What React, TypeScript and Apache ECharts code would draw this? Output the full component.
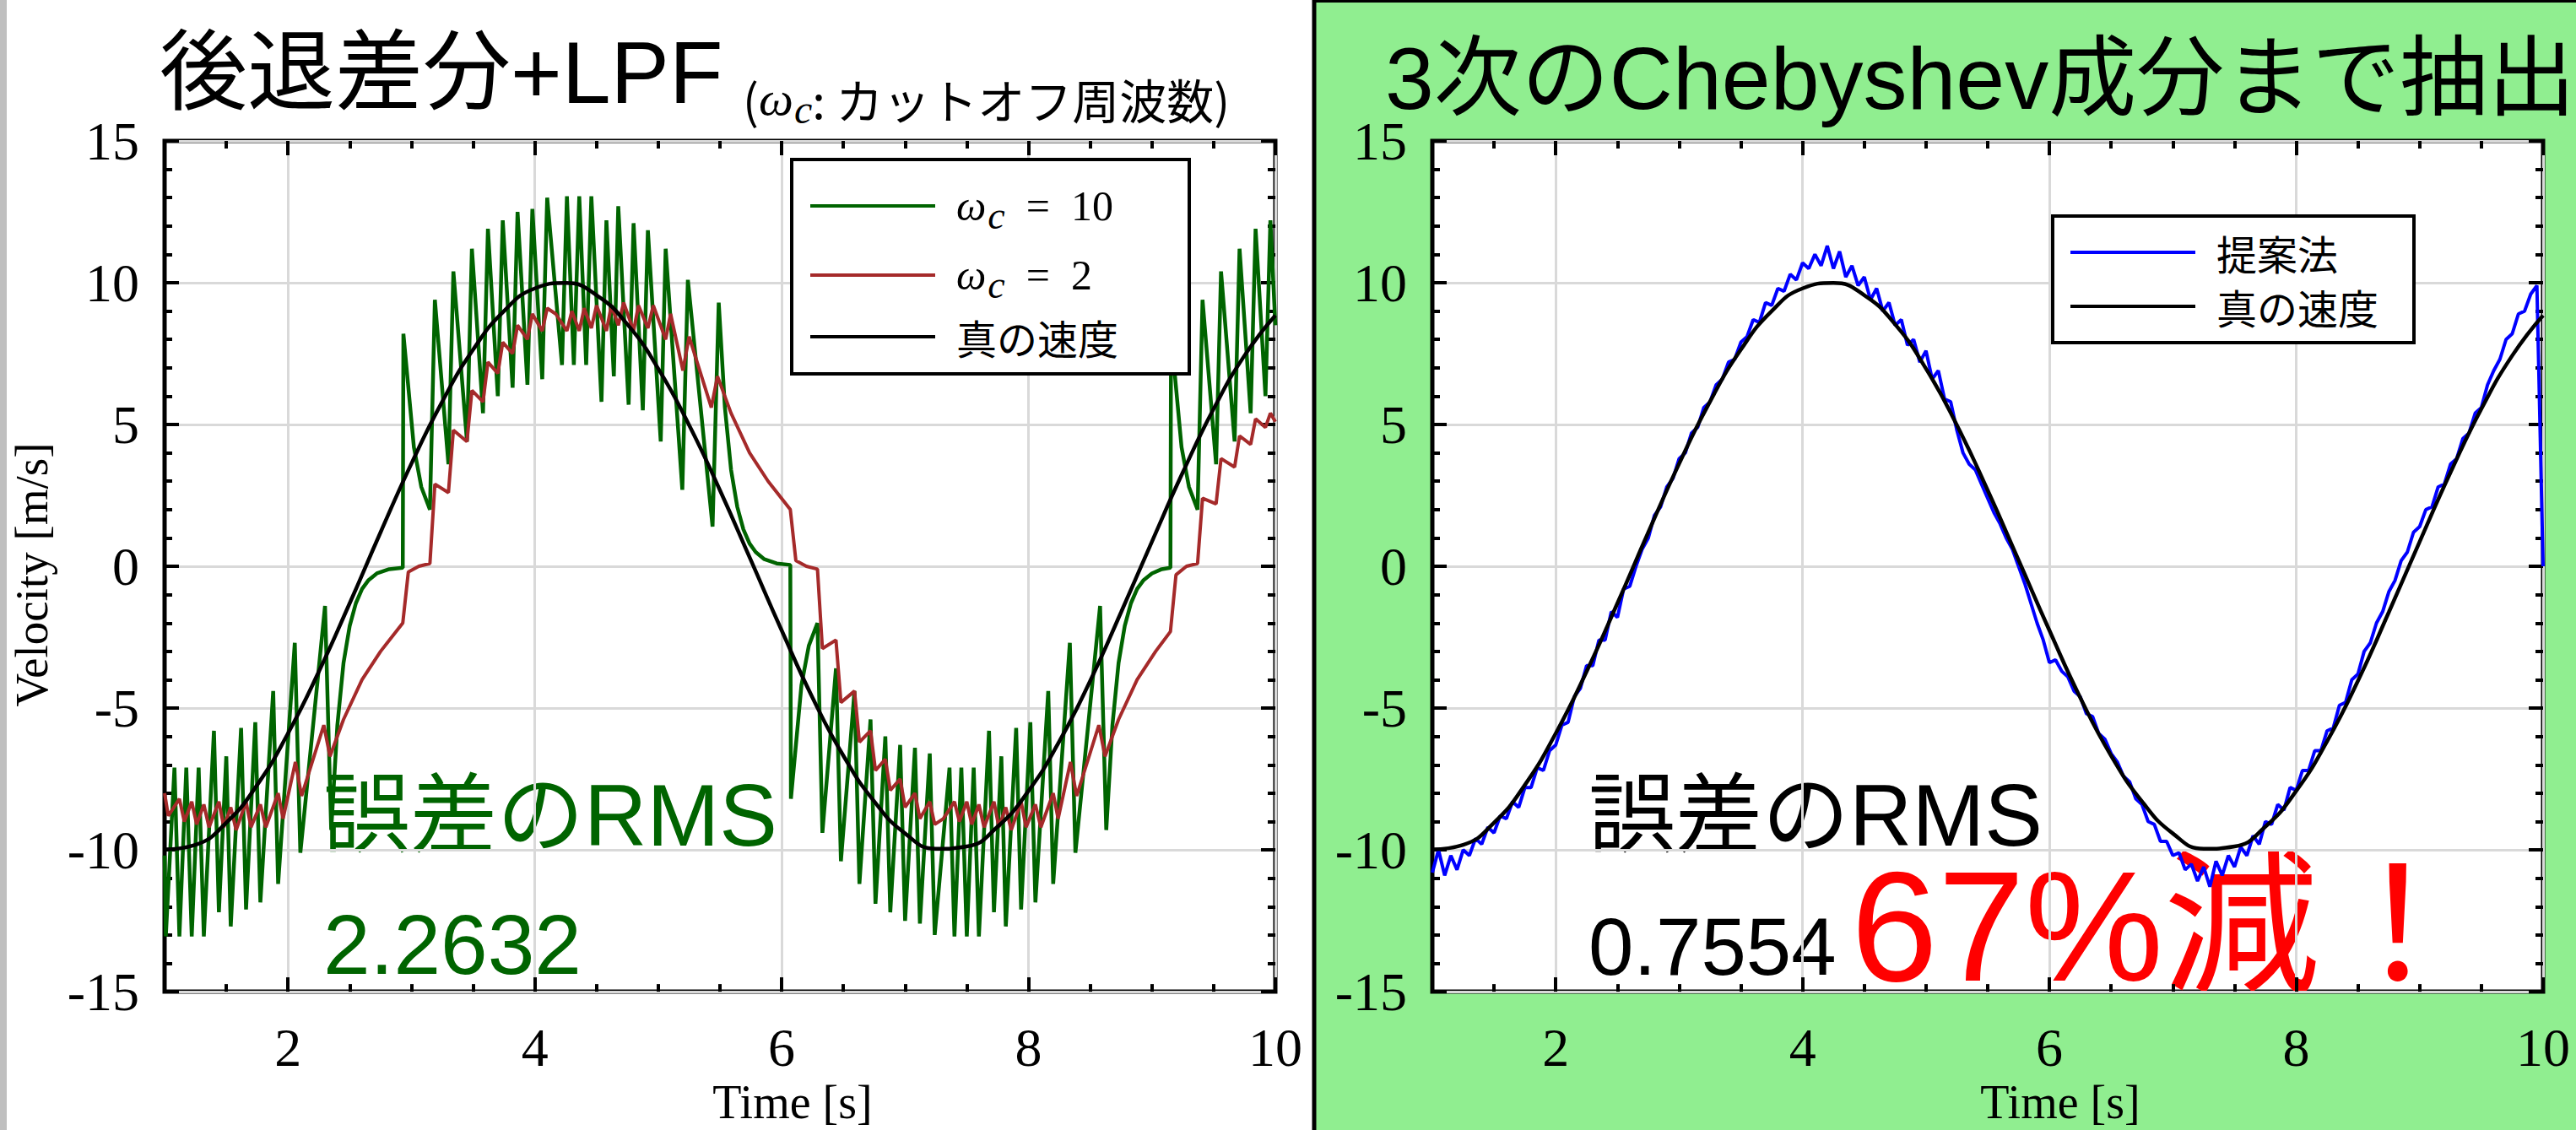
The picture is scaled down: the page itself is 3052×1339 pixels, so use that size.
import React, { useEffect, useRef } from 'react';
import * as echarts from 'echarts';

const W = 3052;
const H = 1339;

const SANS = "'Liberation Sans', 'Noto Sans CJK JP', sans-serif";
const SERIF = "'Liberation Serif', 'DejaVu Serif', serif";
const CJK = "'Noto Sans CJK JP', 'Liberation Sans', sans-serif";

// ---- axes ----
const xMajorTicks = [2, 4, 6, 8, 10];
const xMinorTicks = [1.5, 2.5, 3, 3.5, 4.5, 5, 5.5, 6.5, 7, 7.5, 8.5, 9, 9.5];

// ---- true velocity ----
const trueT = [1, 1.25, 1.5, 1.75, 2, 2.25, 2.5, 2.75, 3, 3.25, 3.5, 3.75, 4, 4.25, 4.5, 4.75, 5, 5.25, 5.5, 5.75, 6, 6.25, 6.5, 6.75, 7, 7.25, 7.5, 7.75, 8, 8.25, 8.5, 8.75, 9, 9.25, 9.5, 9.75, 10];
const trueV = [-9.98, -9.82, -9.04, -7.71, -5.89, -3.71, -1.3, 1.2, 3.62, 5.81, 7.64, 9.0, 9.8, 9.99, 9.56, 8.53, 6.97, 4.98, 2.68, 0.22, -2.26, -4.63, -6.68, -8.29, -9.42, -9.96, -9.88, -9.18, -7.92, -6.17, -4.04, -1.62, 0.87, 3.31, 5.55, 7.43, 8.85];

// ---- backward difference + LPF, wc = 10 ----
const greenT = [
  1.0, 1.01, 1.08, 1.12, 1.176, 1.22, 1.276, 1.318, 1.4, 1.44, 1.5, 1.536, 1.62, 1.66, 1.735, 1.776, 1.88, 1.92, 2.055, 2.1, 2.3, 2.35,
  2.4, 2.45, 2.5, 2.55, 2.6, 2.65, 2.72, 2.82, 2.93,
  2.935, 3.02, 3.08, 3.15, 3.19, 3.3, 3.34, 3.45, 3.49, 3.58, 3.62, 3.7, 3.74, 3.82, 3.86, 3.94, 3.98, 4.06, 4.1,
  4.22, 4.26, 4.316, 4.36, 4.416, 4.458, 4.54, 4.58, 4.64, 4.676, 4.76, 4.8, 4.875, 4.916, 5.02, 5.06, 5.195, 5.24, 5.44, 5.49,
  5.54, 5.59, 5.64, 5.69, 5.74, 5.79, 5.86, 5.96, 6.07,
  6.075, 6.16, 6.22, 6.29, 6.33, 6.44, 6.48, 6.59, 6.63, 6.72, 6.76, 6.84, 6.88, 6.96, 7.0, 7.08, 7.12, 7.2, 7.24,
  7.36, 7.4, 7.456, 7.5, 7.556, 7.598, 7.68, 7.72, 7.78, 7.816, 7.9, 7.94, 8.015, 8.056, 8.16, 8.2, 8.335, 8.38, 8.58, 8.63,
  8.68, 8.73, 8.78, 8.83, 8.88, 8.93, 9.0, 9.08, 9.15,
  9.155, 9.24, 9.3, 9.37, 9.41, 9.52, 9.56, 9.67, 9.71, 9.8, 9.84, 9.92, 9.96, 10.0];
const greenV = [
  -10.2, -13.05, -7.1, -13.05, -7.1, -13.05, -7.1, -13.05, -5.8, -12.2, -6.7, -12.7, -5.7, -12.1, -5.5, -11.85, -4.4, -11.2, -2.7, -10.1, -1.4, -9.3,
  -5.6, -3.4, -2.1, -1.3, -0.8, -0.5, -0.25, -0.1, -0.05,
  8.2, 4.2, 2.8, 2.0, 9.4, 3.6, 10.4, 4.4, 11.2, 5.4, 11.9, 6.0, 12.2, 6.3, 12.5, 6.4, 12.6, 6.6, 13.0,
  7.1, 13.05, 7.1, 13.05, 7.1, 13.05, 5.8, 12.2, 6.7, 12.7, 5.7, 12.1, 5.5, 11.85, 4.4, 11.2, 2.7, 10.1, 1.4, 9.3,
  5.6, 3.4, 2.1, 1.3, 0.8, 0.5, 0.25, 0.1, 0.05,
  -8.2, -4.2, -2.8, -2.0, -9.4, -3.6, -10.4, -4.4, -11.2, -5.4, -11.9, -6.0, -12.2, -6.3, -12.5, -6.4, -12.6, -6.6, -13.0,
  -7.1, -13.05, -7.1, -13.05, -7.1, -13.05, -5.8, -12.2, -6.7, -12.7, -5.7, -12.1, -5.5, -11.85, -4.4, -11.2, -2.7, -10.1, -1.4, -9.3,
  -5.6, -3.4, -2.1, -1.3, -0.8, -0.5, -0.25, -0.1, -0.05,
  8.2, 4.2, 2.8, 2.0, 9.4, 3.6, 10.4, 4.4, 11.2, 5.4, 11.9, 6.0, 12.2, 8.5];

// ---- backward difference + LPF, wc = 2 ----
const redT = [
  1.0, 1.03, 1.12, 1.16, 1.22, 1.26, 1.318, 1.36, 1.44, 1.48, 1.536, 1.58, 1.66, 1.7, 1.776, 1.82, 1.92, 1.96, 2.06, 2.11, 2.29, 2.34,
  2.45, 2.6, 2.75, 2.93,
  2.975, 3.06, 3.15, 3.19, 3.3, 3.34, 3.45, 3.49, 3.58, 3.62, 3.7, 3.74, 3.82, 3.86, 3.94, 3.98, 4.06, 4.1, 4.17,
  4.26, 4.3, 4.36, 4.4, 4.458, 4.5, 4.58, 4.62, 4.676, 4.72, 4.8, 4.84, 4.916, 4.96, 5.06, 5.1, 5.2, 5.25, 5.43, 5.48,
  5.59, 5.74, 5.89, 6.07,
  6.115, 6.2, 6.29, 6.33, 6.44, 6.48, 6.59, 6.63, 6.72, 6.76, 6.84, 6.88, 6.96, 7.0, 7.08, 7.12, 7.2, 7.24, 7.31,
  7.4, 7.44, 7.5, 7.54, 7.598, 7.64, 7.72, 7.76, 7.816, 7.86, 7.94, 7.98, 8.056, 8.1, 8.2, 8.24, 8.34, 8.39, 8.57, 8.62,
  8.73, 8.88, 9.03, 9.15,
  9.195, 9.28, 9.37, 9.41, 9.52, 9.56, 9.67, 9.71, 9.8, 9.84, 9.92, 9.96, 10.0];
const redV = [
  -8.0, -8.8, -8.2, -9.0, -8.3, -9.1, -8.4, -9.2, -8.3, -9.2, -8.5, -9.3, -8.3, -9.2, -8.4, -9.2, -8.0, -8.9, -6.9, -8.1, -5.6, -6.7,
  -5.4, -4.0, -3.0, -2.0,
  -0.2, 0.0, 0.1, 2.9, 2.6, 4.8, 4.4, 6.2, 5.8, 7.2, 6.8, 7.9, 7.5, 8.5, 8.0, 8.9, 8.3, 9.1, 8.9,
  8.3, 9.0, 8.3, 9.1, 8.4, 9.2, 8.3, 9.2, 8.5, 9.3, 8.3, 9.2, 8.4, 9.2, 8.0, 8.9, 6.9, 8.1, 5.6, 6.7,
  5.4, 4.0, 3.0, 2.0,
  0.2, 0.0, -0.1, -2.9, -2.6, -4.8, -4.4, -6.2, -5.8, -7.2, -6.8, -7.9, -7.5, -8.5, -8.0, -8.9, -8.3, -9.1, -8.9,
  -8.3, -9.0, -8.3, -9.1, -8.4, -9.2, -8.3, -9.2, -8.5, -9.3, -8.3, -9.2, -8.4, -9.2, -8.0, -8.9, -6.9, -8.1, -5.6, -6.7,
  -5.4, -4.0, -3.0, -2.3,
  -0.3, 0.0, 0.1, 2.4, 2.2, 3.8, 3.5, 4.6, 4.3, 5.2, 4.9, 5.4, 5.1];

// ---- proposed method (3rd order Chebyshev) ----
const blueT = [1.0, 1.05, 1.1, 1.15, 1.2, 1.25, 1.3, 1.35, 1.4, 1.45, 1.5, 1.55, 1.6, 1.65, 1.7, 1.75, 1.8, 1.85, 1.9, 1.95, 2.0, 2.05, 2.1, 2.15, 2.2, 2.25, 2.3, 2.35, 2.4, 2.45, 2.5, 2.55, 2.6, 2.65, 2.7, 2.75, 2.8, 2.85, 2.9, 2.95, 3.0, 3.05, 3.1, 3.15, 3.2, 3.25, 3.3, 3.35, 3.4, 3.45, 3.5, 3.55, 3.6, 3.65, 3.7, 3.75, 3.8, 3.85, 3.9, 3.95, 4.0, 4.05, 4.1, 4.15, 4.2, 4.25, 4.3, 4.35, 4.4, 4.45, 4.5, 4.55, 4.6, 4.65, 4.7, 4.75, 4.8, 4.85, 4.9, 4.95, 5.0, 5.05, 5.1, 5.15, 5.2, 5.25, 5.3, 5.35, 5.4, 5.45, 5.5, 5.55, 5.6, 5.65, 5.7, 5.75, 5.8, 5.85, 5.9, 5.95, 6.0, 6.05, 6.1, 6.15, 6.2, 6.25, 6.3, 6.35, 6.4, 6.45, 6.5, 6.55, 6.6, 6.65, 6.7, 6.75, 6.8, 6.85, 6.9, 6.95, 7.0, 7.05, 7.1, 7.15, 7.2, 7.25, 7.3, 7.35, 7.4, 7.45, 7.5, 7.55, 7.6, 7.65, 7.7, 7.75, 7.8, 7.85, 7.9, 7.95, 8.0, 8.05, 8.1, 8.15, 8.2, 8.25, 8.3, 8.35, 8.4, 8.45, 8.5, 8.55, 8.6, 8.65, 8.7, 8.75, 8.8, 8.85, 8.9, 8.95, 9.0, 9.05, 9.1, 9.15, 9.2, 9.25, 9.3, 9.35, 9.4, 9.45, 9.5, 9.55, 9.6, 9.65, 9.7, 9.75, 9.8, 9.85, 9.9, 9.95, 10.0, 10.0];
const blueV = [-10.8, -10.0, -10.9, -10.2, -10.7, -10.0, -10.2, -9.6, -9.8, -9.2, -9.4, -8.8, -8.9, -8.3, -8.5, -7.8, -7.8, -7.1, -7.2, -6.5, -6.3, -5.6, -5.5, -4.6, -4.3, -3.5, -3.5, -2.6, -2.6, -1.6, -1.8, -0.8, -0.7, 0.0, 0.6, 1.0, 1.8, 2.1, 2.8, 3.1, 3.8, 4.0, 4.7, 4.9, 5.6, 5.8, 6.4, 6.6, 7.2, 7.3, 7.9, 8.1, 8.7, 8.6, 9.3, 9.2, 9.8, 9.7, 10.3, 10.1, 10.7, 10.5, 11.0, 10.6, 11.3, 10.5, 11.1, 10.2, 10.6, 9.9, 10.2, 9.4, 9.8, 9.0, 9.3, 8.5, 8.7, 7.8, 8.0, 7.2, 7.6, 6.6, 6.9, 5.9, 5.8, 4.8, 4.0, 3.6, 3.4, 2.9, 2.4, 1.9, 1.5, 1.0, 0.6, 0.0, -0.6, -1.3, -2.0, -2.6, -3.4, -3.3, -3.7, -3.9, -4.4, -4.6, -5.2, -5.3, -5.9, -6.1, -6.6, -6.9, -7.4, -7.6, -8.2, -8.4, -9.0, -9.1, -9.7, -9.7, -10.2, -10.1, -10.7, -10.5, -11.1, -10.6, -11.3, -10.4, -10.9, -10.2, -10.6, -9.9, -10.2, -9.5, -9.8, -9.0, -9.1, -8.4, -8.6, -7.8, -7.9, -7.2, -7.2, -6.5, -6.5, -5.8, -5.7, -4.9, -4.8, -4.0, -3.8, -3.0, -2.7, -2.0, -1.6, -0.9, -0.5, 0.2, 0.5, 1.2, 1.4, 2.0, 2.1, 2.8, 2.9, 3.6, 3.8, 4.5, 4.7, 5.4, 5.6, 6.4, 6.9, 7.3, 8.0, 8.2, 8.9, 9.0, 9.6, 9.9, 0.0];

const zip = (t: number[], v: number[]) => t.map((x, i) => [x, v[i]]);

function xAxesFor(grid: number) {
  const base = {
    gridIndex: grid,
    type: 'value' as const,
    min: 1,
    max: 10,
    axisLine: { show: false, onZero: false },
  };
  const tickStyle = { color: '#000', width: 4 };
  return [
    {
      ...base,
      position: 'bottom',
      axisTick: { show: true, inside: true, length: 17, customValues: xMajorTicks, lineStyle: tickStyle },
      axisLabel: { show: true, customValues: xMajorTicks, margin: 34, fontSize: 64, fontFamily: SERIF, color: '#000' },
      splitLine: { show: true, lineStyle: { color: '#d9d9d9', width: 3 } },
      name: 'Time [s]',
      nameLocation: 'middle',
      nameGap: 80,
      nameTextStyle: { fontSize: 56, fontFamily: SERIF, color: '#000', padding: [0, 0, 0, 172], lineHeight: 50 },
    },
    {
      ...base,
      position: 'bottom',
      axisTick: { show: true, inside: true, length: 9, customValues: xMinorTicks, lineStyle: tickStyle },
      axisLabel: { show: false },
      splitLine: { show: false },
    },
    {
      ...base,
      position: 'top',
      axisTick: { show: true, inside: true, length: 17, customValues: xMajorTicks, lineStyle: tickStyle },
      axisLabel: { show: false },
      splitLine: { show: false },
    },
    {
      ...base,
      position: 'top',
      axisTick: { show: true, inside: true, length: 9, customValues: xMinorTicks, lineStyle: tickStyle },
      axisLabel: { show: false },
      splitLine: { show: false },
    },
  ];
}

function yAxesFor(grid: number, withName: boolean) {
  const base = {
    gridIndex: grid,
    type: 'value' as const,
    min: -15,
    max: 15,
    interval: 5,
    axisLine: { show: false, onZero: false },
    minorTick: { show: true, splitNumber: 5, length: 9, lineStyle: { color: '#000', width: 4 } },
  };
  const left: any = {
    ...base,
    position: 'left',
    axisTick: { show: true, inside: true, length: 17, lineStyle: { color: '#000', width: 4 } },
    axisLabel: { show: true, margin: 30, fontSize: 64, fontFamily: SERIF, color: '#000', lineHeight: 56 },
    splitLine: { show: true, lineStyle: { color: '#d9d9d9', width: 3 } },
  };
  if (withName) {
    left.name = 'Velocity [m/s]';
    left.nameLocation = 'middle';
    left.nameGap = 130;
    left.nameTextStyle = { fontSize: 55, fontFamily: SERIF, color: '#000', padding: [0, 20, 0, 0] };
  }
  return [
    left,
    {
      ...base,
      position: 'right',
      axisTick: { show: true, inside: true, length: 17, lineStyle: { color: '#000', width: 4 } },
      axisLabel: { show: false },
      splitLine: { show: false },
    },
  ];
}

const legendRich = {
  w: { fontFamily: SERIF, fontStyle: 'italic', fontSize: 50, lineHeight: 50, color: '#000' },
  s: { fontFamily: SERIF, fontStyle: 'italic', fontSize: 46, lineHeight: 30, padding: [22, 0, 0, 2], color: '#000' },
  e: { fontFamily: SERIF, fontSize: 50, lineHeight: 50, color: '#000' },
  j: { fontFamily: CJK, fontSize: 48, lineHeight: 50, color: '#000' },
};

function legendFormatter(name: string) {
  if (name.indexOf('ωc') === 0) {
    const v = name.split('= ')[1];
    return `{w|ω}{s|c}{e|  =  ${v}}`;
  }
  return `{j|${name}}`;
}

export default function App() {
  const ref = useRef<HTMLDivElement>(null);
  useEffect(() => {
    document.body.style.margin = '0';
    if (!ref.current) return;
    const chart = echarts.init(ref.current, null, { renderer: 'svg', width: W, height: H });
    const option: any = {
      animation: false,
      backgroundColor: '#fff',
      title: [
        {
          text: '後退差分+LPF',
          left: 189,
          top: 56,
          padding: 0,
          textStyle: { fontSize: 104, fontWeight: 'normal', fontFamily: SANS, color: '#000', lineHeight: 60 },
        },
        {
          text: '3次のChebyshev成分まで抽出',
          left: 1641,
          top: 63,
          padding: 0,
          textStyle: { fontSize: 104, fontWeight: 'normal', fontFamily: SANS, color: '#000', lineHeight: 60 },
        },
      ],
      graphic: [
        { type: 'rect', shape: { x: 0, y: 0, width: 8, height: H }, style: { fill: '#bfbfbf' }, z: -10 },
        { type: 'rect', shape: { x: 1557, y: 0, width: W - 1557, height: H }, style: { fill: '#90ee90' }, z: -10 },
        { type: 'line', shape: { x1: 1557, y1: 0, x2: 1557, y2: H }, style: { stroke: '#000', lineWidth: 5 }, z: -9 },
        { type: 'line', shape: { x1: 1557, y1: 1.5, x2: W, y2: 1.5 }, style: { stroke: '#000', lineWidth: 3 }, z: -9 },
        {
          type: 'text',
          x: 880,
          y: 116,
          style: {
            text: '{p|(}{w|ω}{s|c}{p|: カットオフ周波数)}',
            verticalAlign: 'middle',
            rich: {
              p: { fontFamily: CJK, fontSize: 56, lineHeight: 60, fill: '#000' },
              w: { fontFamily: SERIF, fontStyle: 'italic', fontSize: 58, lineHeight: 60, fill: '#000' },
              s: { fontFamily: SERIF, fontStyle: 'italic', fontSize: 48, lineHeight: 32, padding: [26, 0, 0, 1], fill: '#000' },
            },
          },
        },
        {
          type: 'text', x: 383, y: 966,
          style: { text: '誤差のRMS', fontFamily: SANS, fontSize: 103, lineHeight: 96, fill: '#006400', verticalAlign: 'middle' },
        },
        {
          type: 'text', x: 383, y: 1119,
          style: { text: '2.2632', fontFamily: SANS, fontSize: 100, lineHeight: 90, fill: '#006400', verticalAlign: 'middle' },
        },
        {
          type: 'text', x: 1882, y: 966,
          style: { text: '誤差のRMS', fontFamily: SANS, fontSize: 103, lineHeight: 96, fill: '#000', verticalAlign: 'middle' },
        },
        {
          type: 'text', x: 1882, y: 1121,
          style: { text: '0.7554', fontFamily: SANS, fontSize: 96, lineHeight: 86, fill: '#000', verticalAlign: 'middle' },
        },
        {
          type: 'text', x: 2193, y: 1098,
          style: { text: '67%減！', fontFamily: SANS, fontSize: 185, lineHeight: 140, fill: '#ff0000', verticalAlign: 'middle' },
        },
      ],
      grid: [
        { left: 195, top: 167, width: 1316, height: 1036, show: true, backgroundColor: '#fff', borderColor: '#000', borderWidth: 5, z: 0 },
        { left: 1697, top: 167, width: 1316, height: 1036, show: true, backgroundColor: '#fff', borderColor: '#000', borderWidth: 5, z: 0 },
      ],
      xAxis: [...xAxesFor(0), ...xAxesFor(1)],
      yAxis: [...yAxesFor(0, true), ...yAxesFor(1, false)],
      legend: [
        {
          orient: 'vertical',
          left: 938,
          top: 189,
          data: ['ωc = 10', 'ωc = 2', '真の速度'],
          icon: 'rect',
          itemWidth: 148,
          itemHeight: 4,
          itemGap: 14,
          padding: [21, 0, 19, 22],
          backgroundColor: '#fff',
          borderColor: '#000',
          borderWidth: 4,
          formatter: legendFormatter,
          textStyle: { width: 276, padding: [0, 0, 0, 20], lineHeight: 50, rich: legendRich },
          selectedMode: false,
        },
        {
          orient: 'vertical',
          left: 2432,
          top: 256,
          data: ['提案法', '真の速度 '],
          icon: 'rect',
          itemWidth: 148,
          itemHeight: 4,
          itemGap: 14,
          padding: [18, 0, 18, 21],
          backgroundColor: '#fff',
          borderColor: '#000',
          borderWidth: 4,
          formatter: (n: string) => legendFormatter(n.trim()),
          textStyle: { width: 234, padding: [0, 0, 0, 20], lineHeight: 50, rich: legendRich },
          selectedMode: false,
        },
      ],
      series: [
        {
          name: 'ωc = 10', type: 'line', xAxisIndex: 0, yAxisIndex: 0, data: zip(greenT, greenV),
          showSymbol: false, symbol: 'none', lineStyle: { color: '#006400', width: 4.5 }, itemStyle: { color: '#006400' }, z: 3,
        },
        {
          name: 'ωc = 2', type: 'line', xAxisIndex: 0, yAxisIndex: 0, data: zip(redT, redV),
          showSymbol: false, symbol: 'none', lineStyle: { color: '#a52a2a', width: 4 }, itemStyle: { color: '#a52a2a' }, z: 4,
        },
        {
          name: '真の速度', type: 'line', xAxisIndex: 0, yAxisIndex: 0, data: zip(trueT, trueV), smooth: 0.5,
          showSymbol: false, symbol: 'none', lineStyle: { color: '#000', width: 4.5 }, itemStyle: { color: '#000' }, z: 5,
        },
        {
          name: '提案法', type: 'line', xAxisIndex: 4, yAxisIndex: 2, data: zip(blueT, blueV),
          showSymbol: false, symbol: 'none', lineStyle: { color: '#0000ff', width: 4 }, itemStyle: { color: '#0000ff' }, z: 3,
        },
        {
          name: '真の速度 ', type: 'line', xAxisIndex: 4, yAxisIndex: 2, data: zip(trueT, trueV), smooth: 0.5,
          showSymbol: false, symbol: 'none', lineStyle: { color: '#000', width: 4.5 }, itemStyle: { color: '#000' }, z: 5,
        },
      ],
    };
    chart.setOption(option);
    return () => chart.dispose();
  }, []);
  return <div ref={ref} style={{ position: 'absolute', left: 0, top: 0, width: W, height: H }} />;
}
